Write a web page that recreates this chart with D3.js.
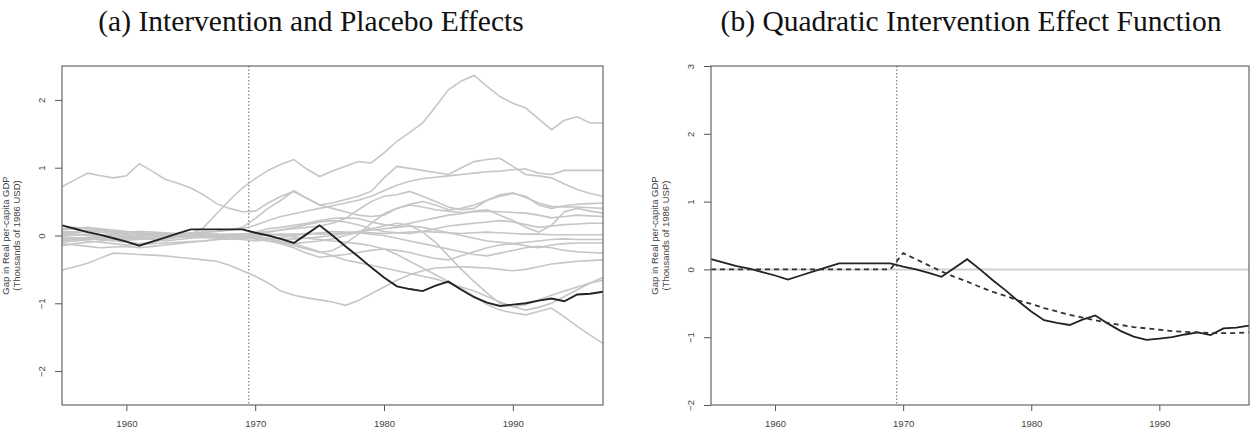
<!DOCTYPE html>
<html>
<head>
<meta charset="utf-8">
<script src="https://cdn.jsdelivr.net/npm/d3@7"></script>
<style>
  body { margin: 0; background: #fff; }
  .tick text { font-family: "Liberation Sans", Arial, sans-serif; font-size: 9.5px; fill: #444; }
  .tick line { stroke: #555; }
  .domain { display: none; }
  .title { font-family: "Liberation Serif", "Times New Roman", serif; font-size: 29.5px; fill: #111; }
  .ylab { font-family: "Liberation Sans", Arial, sans-serif; font-size: 9.5px; fill: #444; }
</style>
</head>
<body>
<div id="chart"></div>
<script>
// years 1955..1997
var years = d3.range(1955, 1998);
var treatYear = 1969.5;

// Basque gap (treated unit)
var basque = [0.15, 0.10, 0.05, 0.01, -0.04, -0.09, -0.15, -0.09, -0.03, 0.03,
  0.09, 0.09, 0.09, 0.09, 0.09, 0.04, 0.00, -0.05, -0.11, 0.02,
  0.15, 0.00, -0.16, -0.31, -0.47, -0.62, -0.75, -0.79, -0.82, -0.74,
  -0.68, -0.80, -0.91, -0.99, -1.04, -1.02, -1.00, -0.96, -0.93, -0.97,
  -0.87, -0.86, -0.83];

// quadratic intervention effect (dashed)
var quadFit = [0, 0, 0, 0, 0, 0, 0, 0, 0, 0,
  0, 0, 0, 0, 0, 0.24, 0.15, 0.06, -0.03, -0.11,
  -0.18, -0.26, -0.33, -0.39, -0.46, -0.51, -0.57, -0.62, -0.67, -0.71,
  -0.75, -0.79, -0.82, -0.85, -0.87, -0.89, -0.91, -0.92, -0.93, -0.94,
  -0.94, -0.94, -0.93];

// placebo gaps
var p1 = [-0.05, -0.04, -0.03, -0.02, -0.03, -0.04, -0.05, -0.04, -0.03, -0.02,
  0.02, 0.12, 0.32, 0.52, 0.70, 0.84, 0.96, 1.05, 1.12, 0.98,
  0.87, 0.95, 1.02, 1.09, 1.07, 1.22, 1.39, 1.52, 1.66, 1.90,
  2.15, 2.28, 2.36, 2.20, 2.05, 1.95, 1.88, 1.72, 1.56, 1.70,
  1.75, 1.66, 1.66];
var p2 = [0.72, 0.82, 0.92, 0.88, 0.85, 0.88, 1.06, 0.95, 0.83, 0.77,
  0.70, 0.60, 0.47, 0.40, 0.35, 0.36, 0.48, 0.58, 0.65, 0.55,
  0.45, 0.48, 0.53, 0.58, 0.65, 0.85, 1.02, 0.99, 0.96, 0.93,
  0.90, 1.00, 1.09, 1.12, 1.14, 1.02, 0.90, 0.88, 0.85, 0.76,
  0.68, 0.62, 0.58];
var p3 = [0.05, 0.04, 0.06, 0.05, 0.03, 0.02, 0.04, 0.03, 0.02, 0.03,
  0.04, 0.05, 0.06, 0.08, 0.10, 0.15, 0.22, 0.28, 0.32, 0.36,
  0.40, 0.44, 0.48, 0.52, 0.58, 0.66, 0.74, 0.80, 0.84, 0.86,
  0.88, 0.90, 0.92, 0.94, 0.95, 0.97, 0.98, 0.92, 0.90, 0.96,
  0.96, 0.96, 0.96];
var p4 = [0.08, 0.10, 0.12, 0.10, 0.08, 0.06, 0.04, 0.02, 0.01, 0.02,
  0.03, 0.05, 0.06, 0.08, 0.12, 0.25, 0.40, 0.52, 0.66, 0.55,
  0.45, 0.40, 0.35, 0.30, 0.28, 0.30, 0.40, 0.46, 0.50, 0.45,
  0.38, 0.40, 0.45, 0.52, 0.58, 0.62, 0.58, 0.45, 0.40, 0.44,
  0.46, 0.47, 0.48];
var p5 = [-0.08, -0.06, -0.05, -0.04, -0.03, -0.02, -0.03, -0.02, -0.01, 0.00,
  0.01, 0.00, -0.01, 0.00, 0.02, 0.04, 0.06, 0.08, 0.10, 0.12,
  0.14, 0.18, 0.25, 0.38, 0.50, 0.58, 0.60, 0.65, 0.58, 0.50,
  0.42, 0.38, 0.40, 0.52, 0.60, 0.63, 0.56, 0.48, 0.43, 0.42,
  0.42, 0.41, 0.40];
var p6 = [0.03, 0.02, 0.00, -0.02, -0.03, -0.02, 0.00, 0.02, 0.03, 0.02,
  0.00, -0.02, -0.03, -0.02, 0.00, 0.05, 0.10, 0.12, 0.15, 0.18,
  0.22, 0.25, 0.26, 0.25, 0.20, 0.16, 0.14, 0.18, 0.22, 0.26,
  0.30, 0.32, 0.36, 0.38, 0.30, 0.22, 0.12, 0.05, 0.15, 0.35,
  0.40, 0.36, 0.33];
var p7 = [-0.02, -0.03, -0.05, -0.06, -0.08, -0.10, -0.12, -0.10, -0.06, -0.03,
  -0.01, 0.00, 0.01, 0.02, 0.02, 0.00, -0.05, -0.10, -0.15, -0.20,
  -0.25, -0.22, -0.12, 0.02, 0.18, 0.32, 0.40, 0.45, 0.42, 0.38,
  0.36, 0.34, 0.35, 0.36, 0.35, 0.34, 0.33, 0.30, 0.26, 0.28,
  0.30, 0.29, 0.28];
var p8 = [0.00, 0.01, 0.02, 0.01, 0.00, -0.01, 0.00, 0.01, 0.00, -0.01,
  0.00, 0.01, 0.00, 0.01, 0.02, 0.03, 0.05, 0.08, 0.12, 0.16,
  0.20, 0.22, 0.20, 0.16, 0.10, 0.06, 0.04, 0.03, 0.06, 0.10,
  0.14, 0.16, 0.18, 0.20, 0.22, 0.20, 0.16, 0.12, 0.14, 0.16,
  0.17, 0.18, 0.18];
var p9 = [0.02, 0.01, 0.00, 0.00, 0.01, 0.00, -0.01, 0.00, 0.01, 0.00,
  0.00, 0.01, 0.00, 0.00, 0.01, 0.00, 0.01, 0.02, 0.02, 0.03,
  0.02, 0.03, 0.04, 0.05, 0.04, 0.03, 0.04, 0.05, 0.06, 0.05,
  0.04, 0.03, 0.04, 0.05, 0.04, 0.03, 0.02, 0.02, 0.01, 0.01,
  0.01, 0.01, 0.01];
var p10 = [-0.10, -0.08, -0.06, -0.05, -0.06, -0.07, -0.06, -0.04, -0.03, -0.02,
  -0.02, -0.01, 0.00, 0.00, -0.01, -0.02, -0.05, -0.08, -0.12, -0.10,
  -0.08, -0.05, 0.00, 0.05, 0.08, 0.10, 0.12, 0.14, 0.12, 0.08,
  0.04, 0.00, -0.04, -0.08, -0.10, -0.12, -0.10, -0.08, -0.06, -0.05,
  -0.06, -0.06, -0.06];
var p11 = [0.10, 0.12, 0.10, 0.08, 0.06, 0.05, 0.06, 0.05, 0.04, 0.03,
  0.02, 0.01, 0.00, -0.01, -0.02, -0.04, -0.08, -0.12, -0.18, -0.26,
  -0.32, -0.30, -0.28, -0.25, -0.22, -0.20, -0.22, -0.25, -0.30, -0.34,
  -0.36, -0.30, -0.24, -0.18, -0.14, -0.12, -0.15, -0.18, -0.14, -0.12,
  -0.11, -0.11, -0.11];
var p12 = [-0.15, -0.12, -0.10, -0.08, -0.06, -0.05, -0.04, -0.06, -0.08, -0.06,
  -0.04, -0.03, -0.04, -0.05, -0.06, -0.08, -0.06, -0.03, 0.00, 0.02,
  0.04, 0.06, 0.05, 0.04, 0.02, 0.00, -0.04, -0.08, -0.12, -0.16,
  -0.20, -0.24, -0.28, -0.30, -0.26, -0.22, -0.18, -0.16, -0.18, -0.22,
  -0.24, -0.25, -0.26];
var p13 = [0.05, 0.06, 0.08, 0.07, 0.05, 0.03, 0.02, 0.01, 0.00, 0.01,
  0.02, 0.03, 0.02, 0.01, 0.00, -0.02, -0.04, -0.06, -0.05, -0.04,
  -0.02, 0.00, 0.03, 0.06, 0.10, 0.14, 0.18, 0.15, 0.05, -0.10,
  -0.30, -0.50, -0.68, -0.85, -1.00, -1.05, -1.02, -0.95, -0.88, -0.82,
  -0.76, -0.70, -0.66];
var p14 = [-0.51, -0.46, -0.41, -0.33, -0.26, -0.27, -0.28, -0.29, -0.30, -0.32,
  -0.34, -0.36, -0.38, -0.44, -0.52, -0.60, -0.70, -0.82, -0.88, -0.92,
  -0.95, -0.98, -1.03, -0.96, -0.86, -0.76, -0.66, -0.58, -0.52, -0.48,
  -0.47, -0.46, -0.47, -0.48, -0.50, -0.52, -0.50, -0.46, -0.42, -0.40,
  -0.38, -0.37, -0.36];
var p15 = [-0.05, -0.06, -0.08, -0.10, -0.12, -0.14, -0.13, -0.12, -0.11, -0.10,
  -0.09, -0.08, -0.06, -0.04, -0.02, 0.00, 0.02, 0.00, -0.02, -0.04,
  -0.06, -0.08, -0.10, -0.12, -0.15, -0.20, -0.28, -0.38, -0.48, -0.58,
  -0.68, -0.78, -0.90, -1.02, -1.10, -1.14, -1.17, -1.12, -1.07, -1.20,
  -1.34, -1.47, -1.59];
var p16 = [-0.12, -0.14, -0.16, -0.18, -0.17, -0.16, -0.18, -0.16, -0.14, -0.12,
  -0.10, -0.08, -0.06, -0.05, -0.04, -0.05, -0.08, -0.10, -0.12, -0.18,
  -0.24, -0.30, -0.36, -0.40, -0.44, -0.48, -0.52, -0.56, -0.60, -0.64,
  -0.70, -0.76, -0.82, -0.90, -0.98, -1.05, -1.10, -1.06, -1.00, -0.90,
  -0.80, -0.70, -0.62];
var placebos = [p1, p2, p3, p4, p5, p6, p7, p8, p9, p10, p11, p12, p13, p14, p15, p16];

var xTicks = [1960, 1970, 1980, 1990];
var yTicksA = [-2, -1, 0, 1, 2];
var yTicksB = [-2, -1, 0, 1, 2, 3];

var titleA = "(a) Intervention and Placebo Effects";
var titleB = "(b) Quadratic Intervention Effect Function";
var yLabA = ["Gap in Real per-capita GDP", "(Thousands of 1986 USD)"];
var yLabB = ["Gap in Real per-capita GDP", "(Thousands of 1986 USP)"];

var svgWidth = 1258;
var svgHeight = 445;

var svg = d3.select("#chart")
    .append("svg")
    .attr("width", svgWidth)
    .attr("height", svgHeight);

// plot box, shared by both panels
var plotTop = 66, plotBottom = 405;

function drawPanel(left, right, titleX, yDomain, yTicks, title, yLab) {
    var g = svg.append("g");

    var x = d3.scaleLinear().domain([1955, 1997]).range([left, right]);
    var y = d3.scaleLinear().domain(yDomain).range([plotBottom, plotTop]);

    // x axis
    g.append("g")
        .attr("transform", `translate(0, ${plotBottom})`)
        .call(d3.axisBottom(x).tickValues(xTicks).tickFormat(d3.format("d")).tickSize(6).tickPadding(9));

    // y axis, labels parallel to the axis
    var yAxis = g.append("g")
        .attr("transform", `translate(${left}, 0)`)
        .call(d3.axisLeft(y).tickValues(yTicks).tickFormat(d3.format("d")).tickSize(7));
    yAxis.selectAll(".tick text")
        .attr("x", 0).attr("dy", 0)
        .attr("text-anchor", "middle")
        .attr("transform", "translate(-17, 0) rotate(-90)");

    // y axis title
    var yl = g.append("text")
        .attr("class", "ylab")
        .attr("text-anchor", "middle")
        .attr("transform", `translate(${left - 53}, ${(plotTop + plotBottom) / 2}) rotate(-90)`);
    yl.append("tspan").attr("x", 0).attr("dy", 0).text(yLab[0]);
    yl.append("tspan").attr("x", 0).attr("dy", 10.5).text(yLab[1]);

    // title
    g.append("text")
        .attr("class", "title")
        .attr("x", titleX)
        .attr("y", 31)
        .attr("text-anchor", "middle")
        .text(title);

    // treatment line
    g.append("line")
        .attr("x1", x(treatYear)).attr("x2", x(treatYear))
        .attr("y1", plotTop).attr("y2", plotBottom)
        .attr("stroke", "#666")
        .attr("stroke-width", 1)
        .attr("stroke-dasharray", "1.5,2");

    return {g: g, x: x, y: y, left: left, right: right};
}

function box(p) {
    p.g.append("rect")
        .attr("x", p.left).attr("y", plotTop)
        .attr("width", p.right - p.left).attr("height", plotBottom - plotTop)
        .attr("fill", "none")
        .attr("stroke", "#666")
        .attr("stroke-width", 1.2);
}

// Panel (a)
var pa = drawPanel(62, 603, 311, [-2.5, 2.5], yTicksA, titleA, yLabA);
var lineA = d3.line().x((d, i) => pa.x(years[i])).y(d => pa.y(d));

pa.g.selectAll("path.placebo")
    .data(placebos)
    .enter()
    .append("path")
    .classed("placebo", true)
    .attr("d", lineA)
    .attr("fill", "none")
    .attr("stroke", "#c6c6c6")
    .attr("stroke-width", 1.6);

pa.g.append("path")
    .attr("d", lineA(basque))
    .attr("fill", "none")
    .attr("stroke", "#222")
    .attr("stroke-width", 1.9);
box(pa);

// Panel (b)
var pb = drawPanel(711, 1249, 971, [-2, 3], yTicksB, titleB, yLabB);
var lineB = d3.line().x((d, i) => pb.x(years[i])).y(d => pb.y(d));

pb.g.append("line")
    .attr("x1", pb.left).attr("x2", pb.right)
    .attr("y1", pb.y(0)).attr("y2", pb.y(0))
    .attr("stroke", "#d0d0d0")
    .attr("stroke-width", 2);

pb.g.append("path")
    .attr("d", lineB(basque))
    .attr("fill", "none")
    .attr("stroke", "#222")
    .attr("stroke-width", 1.8);

pb.g.append("path")
    .attr("d", lineB(quadFit))
    .attr("fill", "none")
    .attr("stroke", "#333")
    .attr("stroke-width", 1.8)
    .attr("stroke-dasharray", "5,4");
box(pb);
</script>
</body>
</html>
